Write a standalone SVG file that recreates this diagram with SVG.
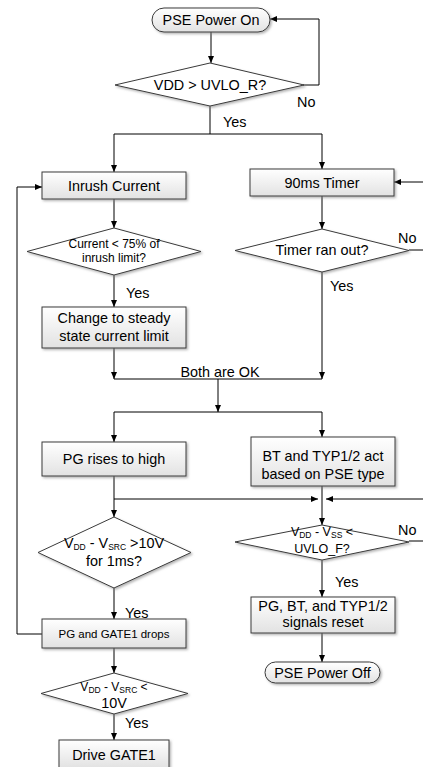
<svg xmlns="http://www.w3.org/2000/svg" width="423" height="767" viewBox="0 0 423 767">
<defs>
<linearGradient id="g" x1="0" y1="0" x2="0" y2="1">
<stop offset="0" stop-color="#ffffff"/>
<stop offset="1" stop-color="#e2e2e2"/>
</linearGradient>
<filter id="sh" x="-10%" y="-10%" width="130%" height="140%">
<feDropShadow dx="1.5" dy="1.5" stdDeviation="0.8" flood-color="#808080" flood-opacity="0.6"/>
</filter>
<marker id="a" markerWidth="7" markerHeight="6" refX="7" refY="3" orient="auto" markerUnits="userSpaceOnUse">
<path d="M0,0 L7,3 L0,6 Z" fill="#000"/>
</marker>
</defs>
<style>
.box{fill:url(#g);stroke:#3a3a3a;stroke-width:1;filter:url(#sh)}
.dia{fill:#ffffff;stroke:#3a3a3a;stroke-width:1;filter:url(#sh)}
.t{font-family:"Liberation Sans",Arial,sans-serif;font-size:14.4px;fill:#000;text-anchor:middle}
.s{font-family:"Liberation Sans",Arial,sans-serif;font-size:12px;fill:#000;text-anchor:middle}
.lb{font-family:"Liberation Sans",Arial,sans-serif;font-size:14.4px;fill:#000}
.sub{font-size:8.5px}
.c{fill:none;stroke:#000;stroke-width:1}
.ca{fill:none;stroke:#000;stroke-width:1;marker-end:url(#a)}
</style>

<g id="connectors">
<path class="ca" d="M211,32 V63"/>
<path class="ca" d="M303,85 H319 V19 H270"/>
<path class="c" d="M210,106 V134 M114,134 H322"/>
<path class="ca" d="M114,134 V172"/>
<path class="ca" d="M322,134 V169"/>
<path class="ca" d="M42,634 H17 V187 H42"/>
<path class="ca" d="M409,250 H426 V182 H394"/>
<path class="ca" d="M114,199 V228"/>
<path class="ca" d="M322,196 V229"/>
<path class="ca" d="M114,275 V307"/>
<path class="ca" d="M322,272 V379"/>
<path class="ca" d="M114,348 V379"/>
<path class="c" d="M114,379 H322"/>
<path class="ca" d="M218,379 V412"/>
<path class="c" d="M114,412 H322"/>
<path class="ca" d="M114,412 V442"/>
<path class="ca" d="M322,412 V437"/>
<path class="ca" d="M114,476 V517"/>
<path class="ca" d="M114,499 H318"/>
<path class="ca" d="M409,541 H426 V499 H326"/>
<path class="ca" d="M322,486 V525"/>
<path class="ca" d="M114,588 V619"/>
<path class="ca" d="M322,560 V597"/>
<path class="ca" d="M114,648 V673"/>
<path class="ca" d="M114,714 V740"/>
<path class="ca" d="M322,633 V662"/>
<text class="lb" x="297" y="107">No</text>
<text class="lb" x="223" y="127">Yes</text>
<text class="lb" x="398" y="243">No</text>
<text class="lb" x="126" y="298">Yes</text>
<text class="lb" x="330" y="291">Yes</text>
<text class="t" x="220" y="377">Both are OK</text>
<text class="lb" x="398" y="535">No</text>
<text class="lb" x="335" y="587">Yes</text>
<text class="lb" x="125" y="618">Yes</text>
<text class="lb" x="125" y="728">Yes</text>
</g>

<g id="pse-on">
<rect class="box" x="152" y="8" width="118" height="24" rx="12" ry="12"/>
<text class="t" x="211" y="25">PSE Power On</text>
</g>
<g id="vdd-uvlo">
<polygon class="dia" points="210,63 304,85 210,106 115,85"/>
<text class="t" x="210" y="90">VDD &gt; UVLO_R?</text>
</g>
<g id="inrush">
<rect class="box" x="42" y="172" width="144" height="27"/>
<text class="t" x="114" y="190.5">Inrush Current</text>
</g>
<g id="timer">
<rect class="box" x="250" y="169" width="144" height="27"/>
<text class="t" x="322" y="187.5">90ms Timer</text>
</g>
<g id="current-check">
<polygon class="dia" points="114,228 201,251.5 114,275 27,251.5"/>
<text class="s" x="114" y="248">Current &lt; 75% of</text>
<text class="s" x="114" y="262">inrush limit?</text>
</g>
<g id="timer-check">
<polygon class="dia" points="322,229 409,250.5 322,272 235,250.5"/>
<text class="t" x="322" y="255">Timer ran out?</text>
</g>
<g id="steady">
<rect class="box" x="42" y="307" width="144" height="41"/>
<text class="t" x="114" y="323">Change to steady</text>
<text class="t" x="114" y="341">state current limit</text>
</g>
<g id="pg-high">
<rect class="box" x="42" y="442" width="144" height="34"/>
<text class="t" x="114" y="464">PG rises to high</text>
</g>
<g id="bt-typ">
<rect class="box" x="251" y="437" width="144" height="49"/>
<text class="t" x="323" y="461">BT and TYP1/2 act</text>
<text class="t" x="323" y="479">based on PSE type</text>
</g>
<g id="vsrc-check">
<polygon class="dia" points="114,517 191,552.5 114,588 38,552.5"/>
<text class="t" x="114" y="548">V<tspan class="sub" dy="2">DD</tspan><tspan dy="-2"> - V</tspan><tspan class="sub" dy="2">SRC</tspan><tspan dy="-2"> &gt;10V</tspan></text>
<text class="t" x="114" y="566">for 1ms?</text>
</g>
<g id="uvlo-f-check">
<polygon class="dia" points="322,525 409,542 322,560 235,542"/>
<text class="s" x="322" y="536" style="font-size:12.5px">V<tspan class="sub" dy="2">DD</tspan><tspan dy="-2"> - V</tspan><tspan class="sub" dy="2">SS</tspan><tspan dy="-2"> &lt;</tspan></text>
<text class="s" x="322" y="553" style="font-size:12.5px">UVLO_F?</text>
</g>
<g id="drops">
<rect class="box" x="42" y="619" width="144" height="29"/>
<text class="t" x="114" y="638" style="font-size:11.5px">PG and GATE1 drops</text>
</g>
<g id="reset">
<rect class="box" x="251" y="597" width="144" height="36"/>
<text class="t" x="323" y="611">PG, BT, and TYP1/2</text>
<text class="t" x="323" y="627">signals reset</text>
</g>
<g id="pse-off">
<rect class="box" x="265" y="662" width="115" height="21" rx="10.5" ry="10.5"/>
<text class="t" x="322.5" y="677.5">PSE Power Off</text>
</g>
<g id="vsrc-low-check">
<polygon class="dia" points="114,673 188,693.5 114,714 41,693.5"/>
<text class="s" x="114" y="691">V<tspan class="sub" dy="2">DD</tspan><tspan dy="-2"> - V</tspan><tspan class="sub" dy="2">SRC</tspan><tspan dy="-2"> &lt;</tspan></text>
<text class="t" x="114" y="708">10V</text>
</g>
<g id="drive">
<rect class="box" x="59" y="740" width="110" height="28"/>
<text class="t" x="114" y="760">Drive GATE1</text>
</g>
</svg>
